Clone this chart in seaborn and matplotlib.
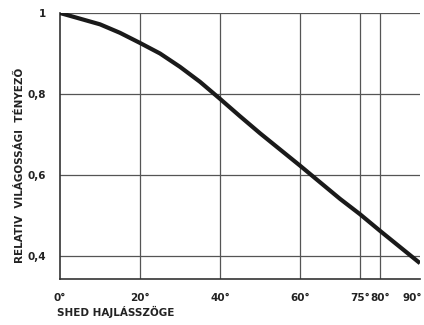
import matplotlib
matplotlib.use("Agg")
import matplotlib.pyplot as plt
import matplotlib.transforms as mtransforms
import seaborn as sns
import pandas as pd

# Relative daylight factor as a function of the shed roof tilt angle
angles = [0, 5, 10, 15, 20, 25, 30, 35, 40, 45, 50, 55, 60, 65, 70, 75, 80, 85, 90]
factor = [1.0, 0.986, 0.972, 0.951, 0.926, 0.90, 0.867, 0.83, 0.788, 0.745,
          0.703, 0.663, 0.623, 0.582, 0.541, 0.503, 0.462, 0.422, 0.382]

x_ticks = [0, 20, 40, 60, 75, 80, 90]
x_tick_labels = ["0°", "20°", "40°", "60°", "75°", "80°", "90°"]
y_ticks = [0.4, 0.6, 0.8, 1.0]
y_tick_labels = ["0,4", "0,6", "0,8", "1"]

df = pd.DataFrame({"szog": angles, "tenyezo": factor})

sns.set_theme(style="white")
plt.rcParams["font.family"] = ["DejaVu Sans"]

fig = plt.figure(figsize=(4.24, 3.25), dpi=100)
ax = fig.add_axes([60 / 424, 1 - 279 / 325, 360 / 424, 266 / 325])

sns.lineplot(data=df, x="szog", y="tenyezo", ax=ax, color="#1a1a1a",
             linewidth=3.0, solid_capstyle="butt", solid_joinstyle="round",
             zorder=3)

ax.set_xlim(0, 90)
ax.set_ylim(0.343, 1.0)

# grid lines
for xv in x_ticks[1:-1]:
    ax.axvline(xv, color="#555555", linewidth=0.9, zorder=1)
for yv in y_ticks:
    ax.axhline(yv, color="#555555", linewidth=0.9, zorder=1)

ax.set_xticks(x_ticks)
ax.set_xticklabels(x_tick_labels, fontsize=7.5, fontweight="bold", color="#222222")
ax.set_yticks(y_ticks)
ax.set_yticklabels(y_tick_labels, fontsize=7.5, fontweight="bold", color="#222222")
ax.tick_params(axis="both", length=0, pad=10)

# keep the last angle label inside the figure
last = ax.get_xticklabels()[-1]
last.set_transform(last.get_transform() +
                   mtransforms.ScaledTranslation(-8 / 100, 0, fig.dpi_scale_trans))

for side in ["top", "right"]:
    ax.spines[side].set_visible(False)
for side in ["left", "bottom"]:
    ax.spines[side].set_color("#333333")
    ax.spines[side].set_linewidth(1.2)

ax.set_xlabel("")
ax.set_ylabel("")
fig.text(57 / 424, 1 - 312 / 325, "SHED HAJLÁSSZÖGE", fontsize=7.5,
         fontweight="bold", color="#222222", ha="left", va="center")
fig.text(20 / 424, 1 - 165 / 325, "RELATIV  VILÁGOSSÁGI  TÉNYEZŐ", fontsize=7.5,
         fontweight="bold", color="#222222", rotation=90, ha="center", va="center")

fig.savefig("out.png", dpi=100, facecolor="white")
